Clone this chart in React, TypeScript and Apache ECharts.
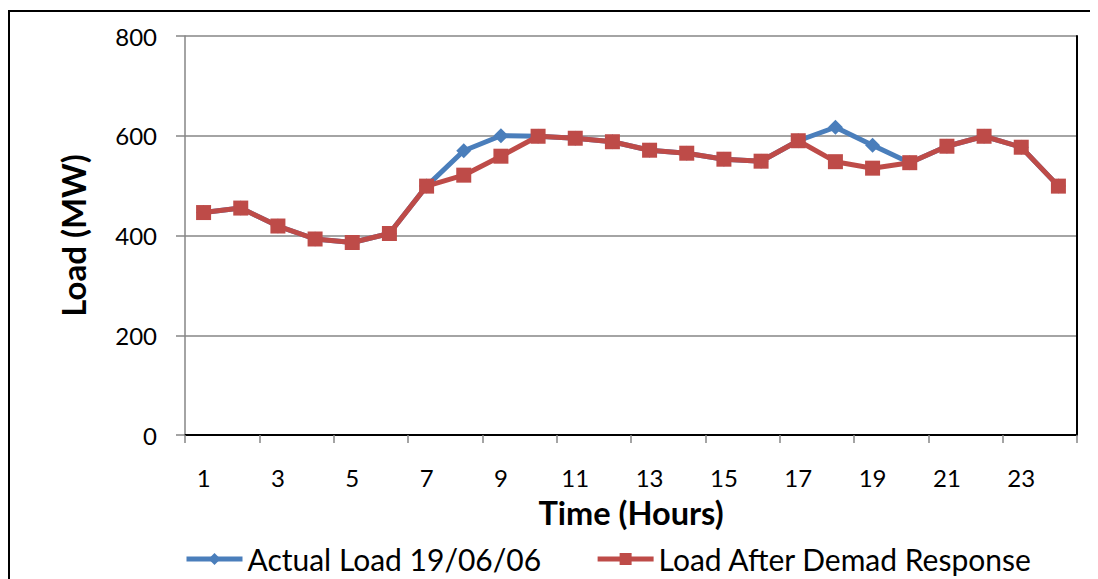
import React, { useEffect, useRef } from "react";
import * as echarts from "echarts";

const hours = ["1","2","3","4","5","6","7","8","9","10","11","12","13","14","15","16","17","18","19","20","21","22","23","24"];
const actualLoad = [446, 455, 419, 393, 386, 404, 499, 570, 600, 599, 595, 588, 571, 565, 553, 549, 590, 617, 581, 546, 579, 599, 577, 499];
const afterDR = [446, 455, 419, 393, 386, 404, 499, 521, 559, 599, 595, 588, 571, 565, 553, 549, 590, 548, 535, 546, 579, 599, 577, 499];
const seriesNames = ["Actual Load 19/06/06", "Load After Demad Response"];

const FONT = "Lato, 'Open Sans', sans-serif";

export default function App() {
  const ref = useRef<HTMLDivElement>(null);
  useEffect(() => {
    if (!ref.current) return;
    const chart = echarts.init(ref.current, undefined, { renderer: "svg" });
    chart.setOption({
      animation: false,
      backgroundColor: "#fff",
      textStyle: { fontFamily: FONT },
      graphic: [
        {
          type: "rect",
          shape: { x: 1, y: 3, width: 1200, height: 700 },
          style: { fill: "none", stroke: "#000", lineWidth: 2 },
          z: 100,
        },
      ],
      grid: { left: 177, right: 21, top: 28, bottom: 144 },
      legend: {
        left: 176,
        top: 536,
        padding: 0,
        itemWidth: 56,
        itemHeight: 15,
        itemGap: 54,
        lineStyle: { width: 5 },
        textStyle: { fontFamily: FONT, fontSize: 30, color: "#000" },
        data: seriesNames,
      },
      xAxis: [
        {
          type: "category",
          data: hours,
          boundaryGap: true,
          axisLine: { lineStyle: { color: "#868686", width: 1.5 } },
          axisTick: { show: true, interval: 1, length: 8, lineStyle: { color: "#868686", width: 1.5 } },
          axisLabel: { interval: 1, color: "#000", fontSize: 24, fontFamily: FONT, margin: 30 },
          name: "Time (Hours)",
          nameLocation: "middle",
          nameGap: 61,
          nameTextStyle: { fontSize: 32.5, fontWeight: "bold", color: "#000", fontFamily: FONT },
        },
        {
          type: "category",
          data: hours,
          position: "top",
          axisLine: { lineStyle: { color: "#000", width: 2 } },
          axisTick: { show: false },
          axisLabel: { show: false },
        },
      ],
      yAxis: [
        {
          type: "value",
          min: 0,
          max: 800,
          interval: 200,
          axisLine: { show: true, lineStyle: { color: "#868686", width: 1.5 } },
          axisTick: { show: true, length: 9, lineStyle: { color: "#868686", width: 1.5 } },
          splitLine: { lineStyle: { color: "#868686", width: 1.5 } },
          axisLabel: { color: "#000", fontSize: 24, fontFamily: FONT, margin: 28 },
          name: "Load (MW)",
          nameLocation: "middle",
          nameGap: 96,
          nameRotate: 90,
          nameTextStyle: { fontSize: 33, fontWeight: "bold", color: "#000", fontFamily: FONT },
        },
        {
          type: "value",
          position: "right",
          min: 0,
          max: 800,
          interval: 200,
          axisLine: { show: true, lineStyle: { color: "#000", width: 2 } },
          axisTick: { show: false },
          axisLabel: { show: false },
          splitLine: { show: false },
        },
      ],
      series: [
        {
          name: seriesNames[0],
          type: "line",
          data: actualLoad,
          symbol: "diamond",
          symbolSize: 15,
          lineStyle: { color: "#4A7EBB", width: 5 },
          itemStyle: { color: "#4A7EBB" },
        },
        {
          name: seriesNames[1],
          type: "line",
          data: afterDR,
          symbol: "rect",
          symbolSize: 15,
          lineStyle: { color: "#BE4B48", width: 5 },
          itemStyle: { color: "#BE4B48" },
        },
      ],
    });
    return () => chart.dispose();
  }, []);
  return <div ref={ref} style={{ width: 1090, height: 571 }} />;
}
